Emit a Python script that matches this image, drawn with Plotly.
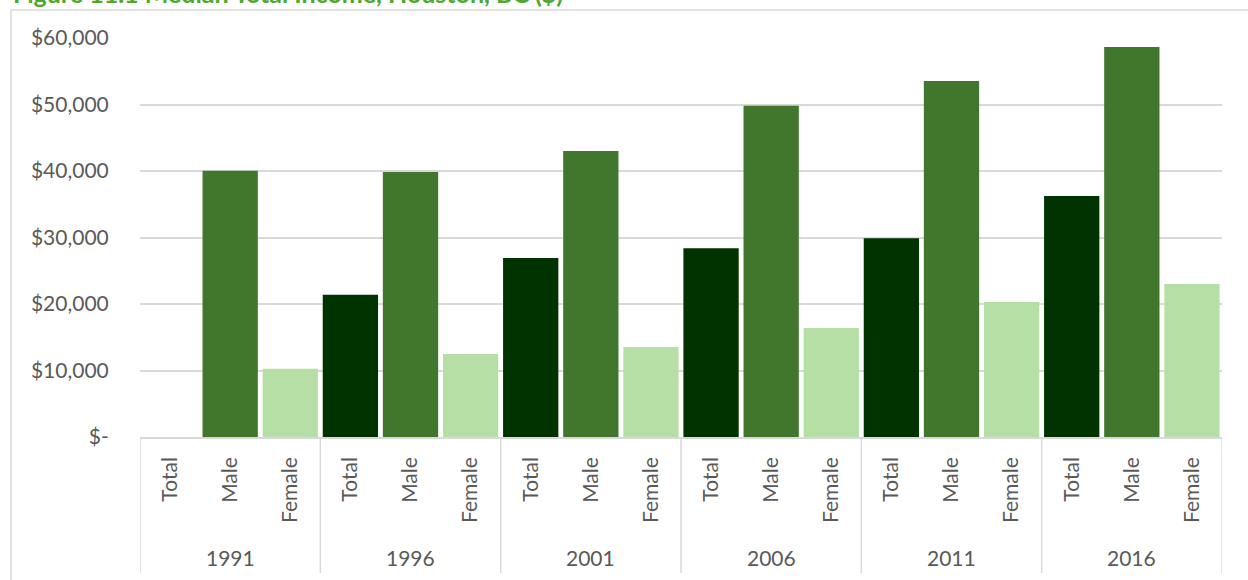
import plotly.graph_objects as go

years = ["1991", "1996", "2001", "2006", "2011", "2016"]
groups = ["Total", "Male", "Female"]
total = [None, 21400, 26900, 28400, 29900, 36250]
male = [40050, 39850, 43000, 49800, 53550, 58650]
female = [10250, 12500, 13550, 16400, 20300, 23000]
colors = {"Total": "#003300", "Male": "#41772C", "Female": "#B6DFA6"}
title = "Figure 11.1 Median Total Income, Houston, BC ($)"
yticks = [0, 10000, 20000, 30000, 40000, 50000, 60000]
yticklabels = ["$-", "$10,000", "$20,000", "$30,000", "$40,000", "$50,000", "$60,000"]

W, H = 1248, 580
L, R, T, B = 140, 26, 38, 143
pw = W - L - R
ph = H - T - B


def px_x(px):
    return (px - L) / pw


def px_y(py):
    return (H - B - py) / ph


xs, ys, cs, labels = [], [], [], []
series = {"Total": total, "Male": male, "Female": female}
i = 0
for yi, yr in enumerate(years):
    for g in groups:
        xs.append(i)
        ys.append(series[g][yi])
        cs.append(colors[g])
        labels.append(g)
        i += 1

fig = go.Figure(go.Bar(x=xs, y=ys, marker=dict(color=cs, line=dict(width=0)),
                       hoverinfo="y"))

font_family = "Lato, 'Open Sans', sans-serif"
fs = 21
fig.update_layout(
    width=W, height=H,
    margin=dict(l=L, r=R, t=T, b=B, pad=0),
    paper_bgcolor="white", plot_bgcolor="white",
    bargap=0.08, showlegend=False,
    font=dict(family=font_family, size=fs, color="#595959"),
)
fig.update_xaxes(range=[-0.5, len(xs) - 0.5], tickmode="array", tickvals=xs,
                 ticktext=labels, tickangle=-90, showgrid=False, zeroline=False,
                 showline=True, linecolor="#D9D9D9", linewidth=1.5,
                 ticks="outside", ticklen=10, tickcolor="rgba(0,0,0,0)",
                 tickfont=dict(size=fs, color="#595959"))
fig.update_yaxes(range=[0, 60000], tickmode="array", tickvals=yticks,
                 ticktext=yticklabels, showgrid=True, gridcolor="#D9D9D9",
                 gridwidth=2, zeroline=False, ticks="outside", ticklen=26,
                 tickcolor="rgba(0,0,0,0)", tickfont=dict(size=fs, color="#595959"))

shapes = []
# chart frame
shapes.append(dict(type="rect", xref="paper", yref="paper",
                   x0=px_x(11), x1=px_x(W + 20),
                   y0=px_y(H + 20), y1=px_y(10),
                   line=dict(color="#D9D9D9", width=1.5), fillcolor="rgba(0,0,0,0)",
                   layer="below"))
# group dividers
for k in range(len(years) + 1):
    shapes.append(dict(type="line", xref="x", yref="paper",
                       x0=k * 3 - 0.5, x1=k * 3 - 0.5, y0=0, y1=px_y(573),
                       line=dict(color="#D9D9D9", width=1.5)))
annotations = []
for k, yr in enumerate(years):
    annotations.append(dict(x=k * 3 + 1, y=px_y(557), xref="x", yref="paper",
                            text=yr, showarrow=False, xanchor="center", yanchor="middle",
                            font=dict(size=fs, color="#595959")))
annotations.append(dict(x=px_x(11), y=px_y(10), xref="paper", yref="paper",
                        text="<b>" + title + "</b>",
                        showarrow=False, xanchor="left", yanchor="bottom",
                        font=dict(size=25, color="#4EA72E", family=font_family)))
fig.update_layout(shapes=shapes, annotations=annotations)

fig.write_html("out.html", config={"displayModeBar": False},
               post_script="document.body.style.margin='0';")
